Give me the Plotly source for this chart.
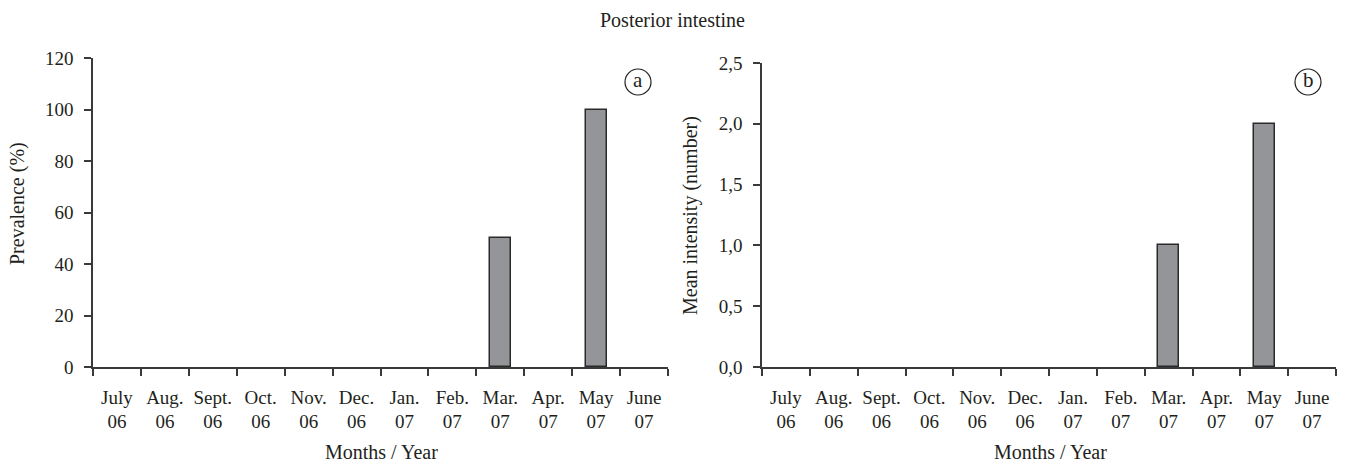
import plotly.graph_objects as go

months = ["July<br>06", "Aug.<br>06", "Sept.<br>06", "Oct.<br>06", "Nov.<br>06", "Dec.<br>06",
          "Jan.<br>07", "Feb.<br>07", "Mar.<br>07", "Apr.<br>07", "May<br>07", "June<br>07"]
prevalence = [0, 0, 0, 0, 0, 0, 0, 0, 50, 0, 100, 0]
mean_intensity = [0, 0, 0, 0, 0, 0, 0, 0, 1.0, 0, 2.0, 0]
prev_ticks = [0, 20, 40, 60, 80, 100, 120]
int_ticks = [0, 0.5, 1.0, 1.5, 2.0, 2.5]

W, H = 1345, 465
FONT = "Liberation Serif"
TXT = "#231f20"
AX = "#3a3a3a"
BAR = "#939598"
EDGE = "#2a2a2a"


def edge_widths(vals):
    return [1.5 if v else 0 for v in vals]


fig = go.Figure()
fig.add_trace(go.Bar(x=months, y=prevalence, xaxis="x", yaxis="y", width=0.44,
                     marker=dict(color=BAR, line=dict(color=EDGE, width=edge_widths(prevalence))),
                     showlegend=False))
fig.add_trace(go.Bar(x=months, y=mean_intensity, xaxis="x2", yaxis="y2", width=0.44,
                     marker=dict(color=BAR, line=dict(color=EDGE, width=edge_widths(mean_intensity))),
                     showlegend=False))


def xa(d0, d1, anchor):
    return dict(domain=[d0 / W, d1 / W], anchor=anchor, type="category", range=[-0.5, 11.5],
                automargin=False, tickangle=0, ticklabelstandoff=12,
                showline=True, linecolor=AX, linewidth=1.5, ticks="outside", tickson="boundaries",
                ticklen=7, tickcolor=AX, tickwidth=1.5, showgrid=False, zeroline=False,
                tickfont=dict(family=FONT, size=19, color=TXT))


def ya(top, bottom, anchor, rng, tv, fmt):
    return dict(domain=[(H - bottom) / H, (H - top) / H], anchor=anchor, range=rng,
                automargin=False,
                showline=True, linecolor=AX, linewidth=1.5, ticks="outside", ticklen=7,
                tickcolor=AX, tickwidth=1.5, tickvals=tv, tickformat=fmt, showgrid=False,
                zeroline=False, ticklabelstandoff=7,
                tickfont=dict(family=FONT, size=19, color=TXT))


fig.update_layout(
    width=W, height=H, margin=dict(l=0, r=0, t=0, b=0),
    paper_bgcolor="white", plot_bgcolor="white", separators=", ",
    bargap=0,
    xaxis=xa(93, 668, "y"),
    yaxis=ya(58, 367, "x", [0, 120], prev_ticks, "d"),
    xaxis2=xa(762, 1336, "y2"),
    yaxis2=ya(63, 367, "x2", [0, 2.5], int_ticks, ".1f"),
    font=dict(family=FONT, color=TXT),
)


def text(t, x, y, size, angle=0):
    fig.add_annotation(text=t, x=x / W, y=1 - y / H, xref="paper", yref="paper",
                       showarrow=False, font=dict(family=FONT, size=size, color=TXT),
                       xanchor="center", yanchor="middle", textangle=angle)


text("Posterior intestine", 672, 20, 20)
text("Months / Year", 381, 452, 20)
text("Months / Year", 1050, 452, 20)
text("Prevalence (%)", 17, 204, 20, -90)
text("Mean intensity (number)", 690, 216, 20, -90)

for lbl, cx in [("a", 638), ("b", 1308)]:
    cy = 82
    r = 13
    fig.add_shape(type="circle", xref="paper", yref="paper",
                  x0=(cx - r) / W, x1=(cx + r) / W, y0=1 - (cy + r) / H, y1=1 - (cy - r) / H,
                  line=dict(color=TXT, width=1.2))
    text(lbl, cx, cy - 2, 21)

fig.write_html("out.html")
